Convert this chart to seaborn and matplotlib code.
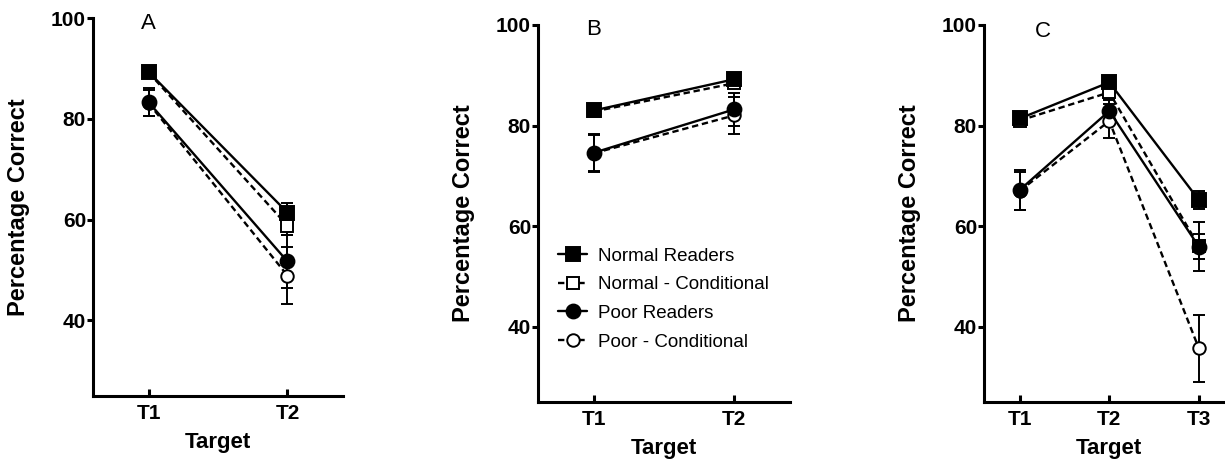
import numpy as np
import pandas as pd
import matplotlib
matplotlib.use("Agg")
import matplotlib.pyplot as plt
import seaborn as sns

# ---- data ----
series_names = ["Normal Readers", "Normal - Conditional", "Poor Readers", "Poor - Conditional"]
y_ticks = [40, 60, 80, 100]

# Panel A
targets_a = ["T1", "T2"]
a_normal = [89.3, 61.4]
a_normal_cond = [89.2, 58.8]
a_poor = [83.3, 51.7]
a_poor_cond = [83.1, 48.9]
a_normal_err = [0.6, 1.9]
a_normal_cond_err = [0.6, 1.9]
a_poor_err = [2.8, 5.3]
a_poor_cond_err = [2.6, 5.6]

# Panel B
targets_b = ["T1", "T2"]
b_normal = [83.0, 89.2]
b_normal_cond = [82.8, 88.4]
b_poor = [74.6, 83.2]
b_poor_cond = [74.5, 82.0]
b_normal_err = [0.8, 0.7]
b_normal_cond_err = [0.8, 0.9]
b_poor_err = [3.8, 3.2]
b_poor_cond_err = [3.6, 3.6]

# Panel C
targets_c = ["T1", "T2", "T3"]
c_normal = [81.4, 88.6, 65.2]
c_normal_cond = [81.0, 86.6, 56.0]
c_poor = [67.2, 82.9, 55.9]
c_poor_cond = [67.0, 80.9, 35.7]
c_normal_err = [0.8, 0.6, 1.8]
c_normal_cond_err = [0.8, 1.4, 2.5]
c_poor_err = [4.0, 2.2, 4.9]
c_poor_cond_err = [3.8, 3.4, 6.7]

# ---- styling ----
sns.set_style("ticks")
plt.rcParams["font.family"] = ["Liberation Sans", "DejaVu Sans"]
for key in ["text.color", "axes.labelcolor", "xtick.color", "ytick.color", "axes.edgecolor"]:
    plt.rcParams[key] = "black"

# filled markers sit on top of the open (conditional) ones
line_styles = {
    "Normal Readers": dict(marker="s", linestyle="-", markerfacecolor="black", markersize=10, zorder=4),
    "Normal - Conditional": dict(marker="s", linestyle=(0, (2.7, 1.6)), markerfacecolor="white", markersize=9, zorder=3),
    "Poor Readers": dict(marker="o", linestyle="-", markerfacecolor="black", markersize=10, zorder=4),
    "Poor - Conditional": dict(marker="o", linestyle=(0, (2.7, 1.6)), markerfacecolor="white", markersize=9, zorder=3),
}


def draw_panel(ax, targets, values, errors, letter, letter_xy):
    x = np.arange(len(targets))
    df = pd.DataFrame({"x": np.tile(x, len(series_names)),
                       "value": np.concatenate(values),
                       "err": np.concatenate(errors),
                       "series": np.repeat(series_names, len(targets))})
    for name in series_names:
        sub = df[df["series"] == name]
        ax.errorbar(sub["x"], sub["value"], yerr=sub["err"], fmt="none",
                    ecolor="black", elinewidth=1.4, capsize=4.5, capthick=1.4, zorder=2)
        sns.lineplot(data=sub, x="x", y="value", ax=ax, color="black", linewidth=1.7,
                     markeredgecolor="black", markeredgewidth=1.4, label=name,
                     legend=False, **line_styles[name])

    ax.set_xlim(-0.4, len(targets) - 0.6)
    ax.set_ylim(25, 100)
    ax.set_xticks(x)
    ax.set_xticklabels(targets, fontweight="bold")
    ax.set_yticks(y_ticks)
    ax.set_yticklabels([str(t) for t in y_ticks], fontweight="bold")
    ax.tick_params(axis="x", direction="in", length=5, width=2.2, labelsize=15, pad=6)
    ax.tick_params(axis="y", direction="out", length=4, width=2.2, labelsize=15, pad=1)
    sns.despine(ax=ax)
    for side in ["left", "bottom"]:
        ax.spines[side].set_linewidth(2.2)

    ax.set_xlabel("Target", fontsize=16, fontweight="bold")
    ax.set_ylabel("Percentage Correct", fontsize=17, fontweight="bold")
    ax.xaxis.set_label_coords(0.5, -0.095)
    ax.yaxis.set_label_coords(-0.25, 0.5)
    ax.text(letter_xy[0], letter_xy[1], letter, fontsize=16, ha="center", va="center")


fig = plt.figure(figsize=(12.25, 4.63), dpi=100)
ax_a = fig.add_axes([93 / 1225, 1 - 396 / 463, 250 / 1225, 378 / 463])
ax_b = fig.add_axes([538 / 1225, 1 - 402 / 463, 252 / 1225, 377 / 463])
ax_c = fig.add_axes([984 / 1225, 1 - 402 / 463, 250.6 / 1225, 377 / 463])

draw_panel(ax_a, targets_a,
           [a_normal, a_normal_cond, a_poor, a_poor_cond],
           [a_normal_err, a_normal_cond_err, a_poor_err, a_poor_cond_err],
           "A", (0.0, 98.9))
draw_panel(ax_b, targets_b,
           [b_normal, b_normal_cond, b_poor, b_poor_cond],
           [b_normal_err, b_normal_cond_err, b_poor_err, b_poor_cond_err],
           "B", (0.0, 99.2))
draw_panel(ax_c, targets_c,
           [c_normal, c_normal_cond, c_poor, c_poor_cond],
           [c_normal_err, c_normal_cond_err, c_poor_err, c_poor_cond_err],
           "C", (0.26, 98.8))

handles = [ln for ln in ax_b.get_lines() if ln.get_label() in series_names]
ax_b.legend(handles=handles, loc="upper left", bbox_to_anchor=(0.08, 0.41),
            frameon=False, fontsize=13.5, handlelength=1.55, handletextpad=0.6,
            labelspacing=0.62, borderpad=0, borderaxespad=0)

fig.savefig("out.png", dpi=100)
